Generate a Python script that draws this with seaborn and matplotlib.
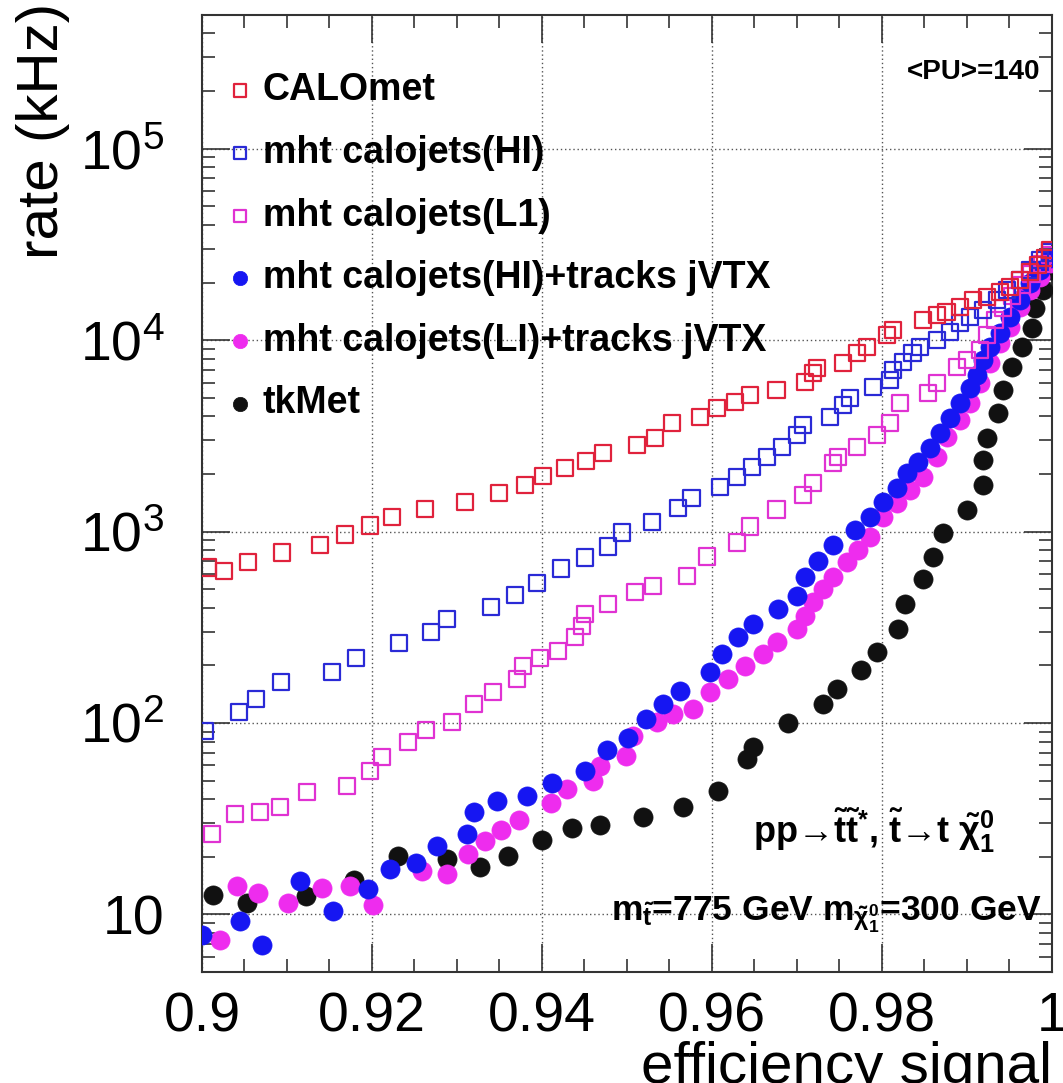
import matplotlib
matplotlib.use('Agg')
import math
import matplotlib.pyplot as plt
import matplotlib.ticker as mticker
import seaborn as sns
import pandas as pd

# CALOmet
calomet_eff = [0.9007, 0.9026, 0.9054, 0.9094, 0.9139, 0.9168, 0.9198, 0.9224, 0.9262, 0.9309,
               0.9349, 0.9380, 0.9401, 0.9427, 0.9452, 0.9472, 0.9512, 0.9533, 0.9553, 0.9586,
               0.9606, 0.9627, 0.9645, 0.9676, 0.9709, 0.9719, 0.9724, 0.9754, 0.9771, 0.9782,
               0.9806, 0.9813, 0.9848, 0.9865, 0.9876, 0.9892, 0.9907, 0.9924, 0.9939, 0.9951,
               0.9962, 0.9974, 0.9984, 0.9992, 0.9998]
calomet_rate = [649, 619, 690, 777, 855, 965, 1075, 1197, 1318, 1433,
                1597, 1758, 1957, 2154, 2344, 2578, 2837, 3088, 3700, 3975,
                4427, 4755, 5171, 5494, 6045, 6730, 7144, 7586, 8551, 9195,
                10617, 11273, 12700, 13490, 13990, 14860, 16150, 16740, 17780, 18880,
                20540, 22590, 24590, 26730, 29430]

# mht calojets(HI)
mht_hi_eff = [0.9004, 0.9044, 0.9064, 0.9093, 0.9153, 0.9181, 0.9232, 0.9269, 0.9288, 0.9340,
              0.9368, 0.9394, 0.9422, 0.9451, 0.9478, 0.9494, 0.9529, 0.9560, 0.9576, 0.9609,
              0.9629, 0.9647, 0.9665, 0.9682, 0.9700, 0.9707, 0.9739, 0.9754, 0.9762, 0.9789,
              0.9809, 0.9813, 0.9825, 0.9836, 0.9845, 0.9865, 0.9880, 0.9892, 0.9904, 0.9919,
              0.9935, 0.9947, 0.9962, 0.9974, 0.9986, 0.9998]
mht_hi_rate = [90.8, 114, 133, 163.5, 184, 218, 261, 298, 348, 402,
               464, 536, 641, 732, 836, 988, 1127, 1334, 1504, 1715,
               1934, 2181, 2458, 2771, 3199, 3605, 3975, 4582, 4989, 5690,
               6190, 6980, 7680, 8551, 9195, 10000, 11010, 12260, 13180, 14330,
               16150, 18200, 20540, 23150, 26100, 28720]

# mht calojets(L1)
mht_l1_eff = [0.9012, 0.9039, 0.9068, 0.9092, 0.9124, 0.9171, 0.9198, 0.9212, 0.9242, 0.9264,
              0.9294, 0.9320, 0.9342, 0.9371, 0.9378, 0.9398, 0.9419, 0.9439, 0.9447, 0.9451,
              0.9478, 0.9509, 0.9531, 0.9571, 0.9594, 0.9629, 0.9645, 0.9676, 0.9707, 0.9719,
              0.9742, 0.9748, 0.9771, 0.9794, 0.9809, 0.9821, 0.9854, 0.9865, 0.9888, 0.9900,
              0.9915, 0.9924, 0.9933, 0.9942, 0.9953, 0.9965, 0.9976, 0.9988, 0.9998]
mht_l1_rate = [26.4, 33.6, 34.4, 36.5, 43.7, 47.0, 56.2, 66.5, 79.6, 91.9,
               101, 125.6, 145, 169.4, 198, 218, 237, 280.5, 320, 370,
               417, 481, 517, 583, 741, 877, 1062, 1303, 1560, 1799,
               2287, 2458, 2771, 3199, 3700, 4697, 5297, 5972, 7226, 7870,
               8869, 10617, 12700, 14680, 16940, 19320, 22060, 24890, 27730]

# mht calojets(HI)+tracks jVTX
trk_hi_eff = [0.9000, 0.9045, 0.9071, 0.9115, 0.9154, 0.9195, 0.9221, 0.9252, 0.9276, 0.9312,
              0.9320, 0.9347, 0.9382, 0.9412, 0.9451, 0.9476, 0.9501, 0.9522, 0.9542, 0.9562,
              0.9598, 0.9612, 0.9631, 0.9648, 0.9678, 0.9700, 0.9709, 0.9725, 0.9742, 0.9768,
              0.9786, 0.9801, 0.9818, 0.9829, 0.9842, 0.9856, 0.9868, 0.9880, 0.9892, 0.9904,
              0.9912, 0.9919, 0.9927, 0.9939, 0.9951, 0.9962, 0.9974, 0.9986, 0.9998]
trk_hi_rate = [7.78, 9.19, 6.90, 14.86, 10.37, 13.49, 17.36, 18.66, 22.88, 26.4,
               34.4, 39.3, 41.7, 48.7, 56.2, 72.3, 83.5, 105, 125.6, 146.8,
               184, 228.8, 280.5, 328, 392.5, 458.5, 576, 698, 855, 1024,
               1197, 1433, 1694, 2028, 2316, 2738, 3279, 3925, 4697, 5623,
               6577, 7870, 9195, 10880, 13180, 16150, 19820, 23150, 26730]

# mht calojets(LI)+tracks jVTX
trk_l1_eff = [0.9021, 0.9041, 0.9066, 0.9101, 0.9141, 0.9174, 0.9201, 0.9259, 0.9288, 0.9313,
              0.9333, 0.9352, 0.9373, 0.9411, 0.9429, 0.9460, 0.9468, 0.9499, 0.9507, 0.9535,
              0.9554, 0.9578, 0.9598, 0.9619, 0.9639, 0.9660, 0.9676, 0.9700, 0.9709, 0.9719,
              0.9731, 0.9742, 0.9759, 0.9772, 0.9786, 0.9801, 0.9818, 0.9833, 0.9848, 0.9865,
              0.9876, 0.9892, 0.9904, 0.9915, 0.9927, 0.9939, 0.9951, 0.9962, 0.9974, 0.9986,
              0.9998]
trk_l1_rate = [7.32, 14.15, 12.87, 11.41, 13.66, 14.15, 11.14, 16.75, 16.35, 20.78,
               24.29, 27.71, 31.25, 38.3, 45.3, 49.9, 59.7, 67.3, 85.5, 101,
               111.4, 118.3, 145, 169.4, 198, 228.8, 264, 309, 361, 426.6,
               499, 576, 690, 805.6, 942, 1197, 1416, 1656, 1934, 2458,
               3125, 3830, 4697, 5972, 7586, 9640, 11690, 14860, 18200, 21290,
               25180]

# tkMet
tkmet_eff = [0.9013, 0.9053, 0.9122, 0.9179, 0.9231, 0.9288, 0.9327, 0.9360, 0.9400, 0.9435,
             0.9468, 0.9519, 0.9566, 0.9607, 0.9641, 0.9648, 0.9689, 0.9731, 0.9747, 0.9775,
             0.9794, 0.9819, 0.9827, 0.9848, 0.9860, 0.9872, 0.9900, 0.9919, 0.9919, 0.9924,
             0.9936, 0.9942, 0.9953, 0.9965, 0.9976, 0.9980, 0.9989, 0.9998]
tkmet_rate = [12.56, 11.41, 12.42, 15.2, 20.28, 19.57, 17.78, 20.28, 24.6, 28.4,
              29.4, 32.4, 36.5, 44.2, 64.9, 75.0, 100, 125.6, 150.4, 188.8,
              234.5, 309, 417, 562, 732, 988, 1302, 1758, 2371, 3088,
              4169, 5490, 7226, 9195, 11550, 14680, 18200, 23150]

sns.set_style('ticks')
plt.rcParams['font.family'] = ['Liberation Sans', 'DejaVu Sans']
plt.rcParams['mathtext.fontset'] = 'custom'
plt.rcParams['mathtext.rm'] = 'Liberation Sans'
plt.rcParams['mathtext.it'] = 'Liberation Sans:italic'
plt.rcParams['mathtext.bf'] = 'Liberation Sans:bold'
plt.rcParams['mathtext.default'] = 'regular'
for k in ['text.color', 'axes.labelcolor', 'xtick.color', 'ytick.color']:
    plt.rcParams[k] = 'black'

fig = plt.figure(figsize=(10.63, 10.83), dpi=100)
ax = fig.add_axes([0.1900, 0.1025, 0.7996, 0.8837])

# capas de dibujo (abajo -> arriba)
series = [
    (tkmet_eff, tkmet_rate, 'tkMet', 'o', '#111111', True),
    (trk_l1_eff, trk_l1_rate, 'mht calojets(LI)+tracks jVTX', 'o', '#ee2cee', True),
    (trk_hi_eff, trk_hi_rate, 'mht calojets(HI)+tracks jVTX', 'o', '#1616f2', True),
    (mht_l1_eff, mht_l1_rate, 'mht calojets(L1)', 's', '#e032d2', False),
    (mht_hi_eff, mht_hi_rate, 'mht calojets(HI)', 's', '#2a2ad6', False),
    (calomet_eff, calomet_rate, 'CALOmet', 's', '#e0223c', False),
]

for eff, rate, name, mk, col, filled in series:
    df = pd.DataFrame({'eff': eff, 'rate': rate})
    if filled:
        sns.scatterplot(data=df, x='eff', y='rate', marker=mk, s=190, color=col,
                        edgecolor=col, linewidth=0.5, ax=ax, label=name, zorder=3)
    else:
        sns.scatterplot(data=df, x='eff', y='rate', marker=mk, s=135, color=col,
                        facecolor='none', edgecolor=col, linewidth=1.6, ax=ax,
                        label=name, zorder=3)

ax.set_yscale('log')
ax.set_xlim(0.9, 1.0)
ax.set_ylim(5, 5e5)

ax.xaxis.set_major_locator(mticker.MultipleLocator(0.02))
ax.xaxis.set_minor_locator(mticker.MultipleLocator(0.005))
ax.xaxis.set_major_formatter(mticker.FuncFormatter(lambda v, p: '1' if abs(v - 1) < 1e-9 else f'{v:g}'))
ax.yaxis.set_major_locator(mticker.LogLocator(base=10))
ax.yaxis.set_minor_locator(mticker.LogLocator(base=10, subs=range(2, 10)))
ax.yaxis.set_minor_formatter(mticker.NullFormatter())
ax.yaxis.set_major_formatter(mticker.FuncFormatter(
    lambda v, p: '10' if abs(v - 10) < 1e-6 else r'$10^{%d}$' % round(math.log10(v))))

ax.tick_params(which='both', direction='in', top=True, right=True, width=1.2, color='#333333')
ax.tick_params(which='major', length=20, labelsize=40)
ax.tick_params(axis='x', which='major', pad=14)
ax.tick_params(axis='y', which='major', pad=27)
ax.tick_params(which='minor', length=9.5)

ax.grid(True, which='major', linestyle=(0, (1, 2)), color='#555555', linewidth=1.0)
ax.set_axisbelow(True)
for sp in ax.spines.values():
    sp.set_linewidth(1.5)
    sp.set_color('#333333')

ax.set_xlabel('efficiency signal', fontsize=42, loc='right')
ax.xaxis.set_label_coords(1.0, -0.072)
ax.set_ylabel('rate (kHz)', fontsize=42, loc='top')
ax.yaxis.set_label_coords(-0.155, 1.013)

# leyenda en el orden original
h, l = ax.get_legend_handles_labels()
order = ['CALOmet', 'mht calojets(HI)', 'mht calojets(L1)',
         'mht calojets(HI)+tracks jVTX', 'mht calojets(LI)+tracks jVTX', 'tkMet']
hm = dict(zip(l, h))
leg = ax.legend([hm[k] for k in order], order, loc='upper left', bbox_to_anchor=(0.032, 0.940),
                frameon=False, markerscale=0.75, handlelength=0.6, handletextpad=0.3,
                labelspacing=0.71, borderpad=0, borderaxespad=0,
                prop={'family': 'Liberation Sans', 'weight': 'bold', 'size': 27})

ax.text(0.986, 0.940, '<PU>=140', transform=ax.transAxes, ha='right', va='center',
        fontsize=20, fontweight='bold')
ax.text(0.933, 0.135,
        r'pp→$\tilde{\mathbf{t}}\tilde{\mathbf{t}}^{*}$, $\tilde{\mathbf{t}}$→t $\tilde{\chi}_{1}^{0}$',
        transform=ax.transAxes, ha='right', va='baseline', fontsize=26, fontweight='bold')
ax.text(0.988, 0.054,
        r'm$_{\tilde{t}}$=775 GeV m$_{\tilde{\chi}_{1}^{0}}$=300 GeV',
        transform=ax.transAxes, ha='right', va='baseline', fontsize=25.5, fontweight='bold')

fig.savefig('out.png', dpi=100)
